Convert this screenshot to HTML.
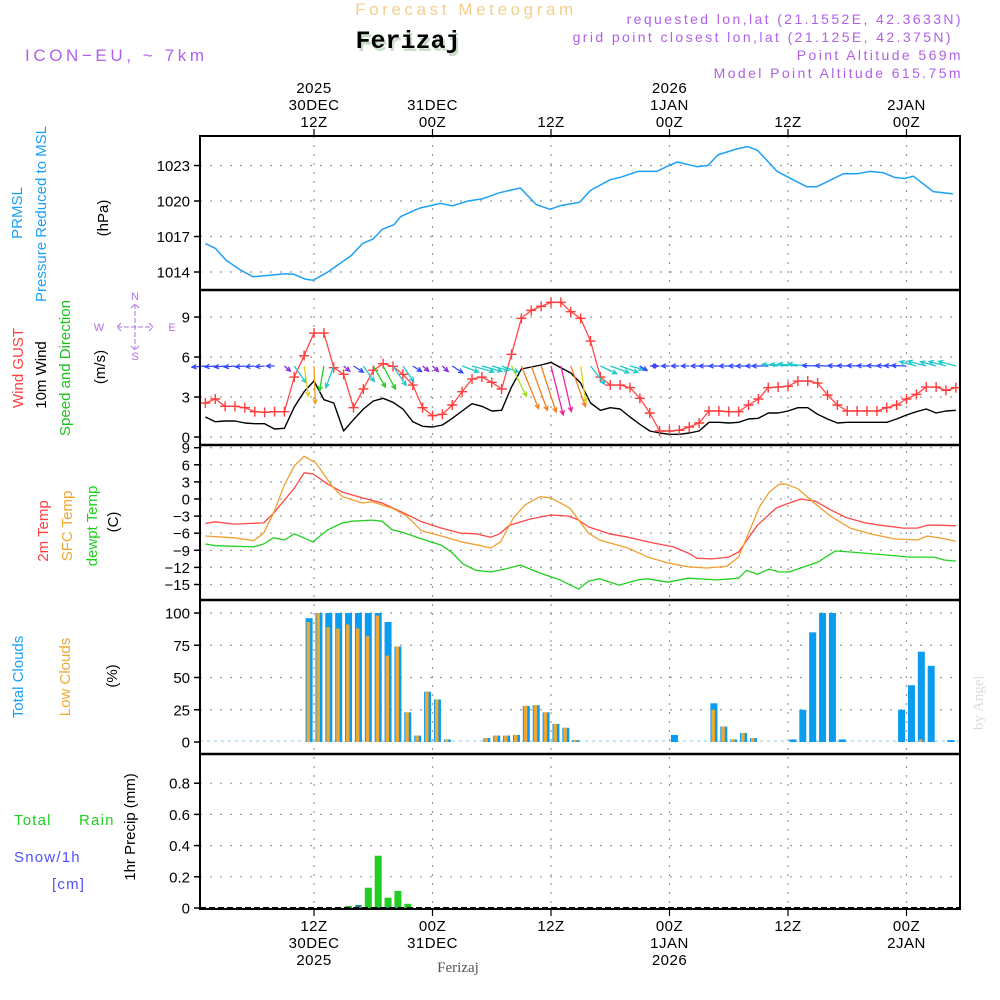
<!DOCTYPE html>
<html><head><meta charset="utf-8"><title>Forecast Meteogram Ferizaj</title>
<style>
html,body{margin:0;padding:0;background:#fff;}
svg{display:block;font-family:"Liberation Sans",sans-serif;}
.tk{font-size:15px;fill:#000;}
</style></head>
<body>
<svg id="chart" width="1000" height="1000" viewBox="0 0 1000 1000" xmlns="http://www.w3.org/2000/svg">
<text x="466" y="15" text-anchor="middle" font-size="17" fill="#f3cf8c" letter-spacing="3.6">Forecast Meteogram</text>
<text x="410" y="51" text-anchor="middle" font-size="25" font-weight="bold" font-family="'Liberation Mono',monospace" fill="#c8dcc8">Ferizaj</text>
<text x="408" y="48" text-anchor="middle" font-size="25" font-weight="bold" font-family="'Liberation Mono',monospace" fill="#000">Ferizaj</text>
<text x="25" y="61" font-size="17" fill="#b060e8" letter-spacing="3.6">ICON−EU, ~ 7km</text>
<g font-size="14" fill="#b060e8" text-anchor="end" letter-spacing="2.4">
<text x="963" y="24">requested lon,lat (21.1552E, 42.3633N)</text>
<text x="953" y="42">grid point closest lon,lat (21.125E, 42.375N)</text>
<text x="963" y="60">Point Altitude 569m</text>
<text x="963" y="78">Model Point Altitude 615.75m</text>
</g>
<g id="g-grid"></g>
<g id="g-data"></g>
<g id="g-axes"></g>
<g id="g-labels"></g>
<text x="458" y="972" text-anchor="middle" font-size="15" font-family="'Liberation Serif',serif" fill="#555">Ferizaj</text>
<text transform="translate(983,730) rotate(-90)" font-size="15" font-family="'Liberation Serif',serif" fill="#dcdcdc">by Angel</text>
</svg>
<script>
// ---------- data ----------
const pressHours=[1,2,3.1,4.5,5.8,7.3,9.1,10,11.1,11.9,13.4,15.8,16.9,18,18.9,20.1,20.8,22.7,24.8,26,27.6,29.1,30.8,32.9,34.5,35.9,36.9,38.9,40,42,43,44.8,46.7,47.7,48.8,50.8,51.9,52.9,54.8,55.9,56.9,58.9,61.9,62.9,65.6,67,68.3,69.6,70.8,71.8,72.7,74.7,76.7];
const pressVals=[1016.4,1016.0,1015.0,1014.2,1013.6,1013.7,1013.85,1013.8,1013.4,1013.3,1014.0,1015.4,1016.4,1016.8,1017.6,1018.0,1018.7,1019.4,1019.8,1019.6,1020.0,1020.2,1020.7,1021.1,1019.7,1019.3,1019.6,1019.9,1020.9,1021.8,1022.0,1022.5,1022.5,1022.9,1023.3,1022.9,1023.0,1023.9,1024.4,1024.6,1024.3,1022.5,1021.2,1021.2,1022.3,1022.3,1022.5,1022.4,1022.0,1021.9,1022.1,1020.8,1020.6];
// hourly t=1..77
const gustVals=[2.55,2.85,2.3,2.3,2.2,1.9,1.85,1.9,1.9,4.5,6.1,7.8,7.8,5.2,4.7,2.2,3.6,5.0,5.5,5.3,4.7,3.9,2.2,1.6,1.7,2.4,3.4,4.35,4.5,4.1,3.6,6.2,8.9,9.5,9.8,10.1,10.1,9.4,8.9,7.2,4.5,3.9,3.9,3.7,2.9,1.8,0.45,0.45,0.5,0.75,1.05,1.95,1.95,1.9,1.9,2.4,2.85,3.7,3.75,3.8,4.2,4.2,4.05,3.15,2.4,1.95,1.95,1.95,1.95,2.2,2.4,2.85,3.2,3.75,3.75,3.5,3.7];
const windVals=[1.5,1.15,1.2,1.2,1.05,1.0,1.0,0.6,0.65,2.25,3.4,4.2,2.8,2.55,0.45,1.3,2.1,2.7,2.9,2.6,2.1,1.15,0.8,0.75,0.9,1.4,1.95,2.5,2.3,1.95,2.0,3.75,5.1,5.25,5.4,5.6,5.2,4.8,4.05,2.55,2.0,2.2,2.1,1.5,0.95,0.45,0.3,0.2,0.2,0.3,0.45,1.1,1.1,1.05,1.1,1.35,1.4,1.8,1.8,1.95,2.2,2.2,1.7,1.35,1.05,1.1,1.1,1.1,1.1,1.1,1.35,1.65,1.9,2.1,1.8,1.95,2.0];
const windDir=[85,85,85,85,85,85,85,90,310,325,352,358,10,20,310,302,325,330,332,326,325,302,310,312,314,303,290,285,285,285,290,334,338,340,342,346,347,340,352,322,295,290,290,285,302,270,90,90,90,90,90,90,90,90,90,90,90,90,96,96,96,96,92,92,92,92,92,92,92,92,92,92,105,105,105,105,105];
const t2mHours=[1,2,3.9,6.9,7.9,10,11,11.9,13.4,14.9,16.9,18.9,20.9,22.9,24.9,26.9,28.4,29.9,30.8,31.8,33.9,36,37.8,38.8,39.8,41.9,43.8,46.3,48.4,49.9,50.8,52.3,54,55,56.9,58.8,59.8,61.3,62.8,64.3,65.8,67.8,69.8,71.7,73.1,74.1,75.3,77];
const t2mVals=[-4.3,-4.0,-4.4,-4.2,-2.5,1.9,4.6,4.4,2.6,1.2,0.2,-0.7,-2.3,-4.0,-5.1,-6.0,-6.1,-6.7,-6.1,-4.6,-3.5,-2.8,-3.0,-3.7,-4.9,-6.1,-6.7,-7.7,-8.4,-9.5,-10.4,-10.5,-10.2,-9.3,-4.6,-1.6,-0.9,0,-0.4,-1.9,-3.2,-4.2,-4.7,-5.1,-5.1,-4.6,-4.6,-4.7];
const sfcHours=[1,3.9,5.9,6.9,7.9,9,10,11,12.2,13.9,14.9,16.9,17.9,19.9,21.4,22.9,24.9,26.9,28.9,29.9,30.9,32.2,33.4,34.9,36,37.9,39.8,40.9,43.8,45.8,47.8,49.9,51.8,53.8,55,57.1,58.1,59.1,59.8,61,62.8,64.3,66.3,68.3,70.8,73.1,74.1,75.3,77];
const sfcVals=[-6.5,-6.8,-7.3,-6.0,-2.5,2.5,5.8,7.5,6.3,2.1,0.4,-0.7,-0.5,-1.6,-3.0,-5.6,-6.5,-7.5,-8.2,-8.6,-7.5,-3.3,-1.0,0.4,0.2,-1.6,-6.0,-7.2,-8.6,-10.2,-11.2,-11.9,-12.1,-11.8,-10.2,-1.4,1.2,2.6,2.6,1.8,-0.9,-3.0,-5.1,-6.1,-7.0,-7.2,-6.5,-6.8,-7.4];
const dewHours=[1,2,5.9,6.9,7.9,9,10,11.9,13.4,14.9,15.9,17.9,18.9,19.9,20.9,22.9,24.9,25.9,27.1,28.4,29.9,31.3,32.9,34.9,36.9,38.8,39.8,40.9,42.9,44.8,45.8,47.8,49.9,52.8,54.3,55,55.8,56.9,58.1,59.1,60.1,61.8,63,64.8,66.3,69.8,72.3,74.8,75.8,77];
const dewVals=[-7.9,-8.2,-8.4,-7.9,-6.8,-7.2,-6.1,-7.5,-5.4,-4.2,-3.9,-3.7,-3.9,-5.4,-5.8,-7.0,-8.1,-9.3,-11.4,-12.5,-12.8,-12.3,-11.6,-13.0,-14.2,-15.8,-14.4,-14.0,-15.1,-14.2,-14.0,-14.6,-13.9,-14.2,-14.0,-13.9,-12.5,-13.2,-12.3,-12.8,-12.8,-11.8,-11.1,-9.1,-9.3,-9.8,-10.2,-10.2,-10.7,-10.9];
const totalClouds=[0,0,0,0,0,0,0,0,0,0,0, 96,100,100,100,100,100,100,100,93,74,23,5,39,33,2, 0,0,0, 3,5,5,5.5,28,28.5,23,14,11,1.5, 0,0,0,0,0,0,0,0,0, 5.5, 0,0,0, 30,12,2,7,3, 0,0,0, 2,25,85,100,100,2, 0,0,0,0,0, 25,44,70,59,0,1.5];
const lowClouds=[0,0,0,0,0,0,0,0,0,0,0, 93,100,89,88,91,88,82,98,67,74,23,5,39,33,2, 0,0,0, 3,5,5,5.5,28,28.5,23,14,11,1.5, 0,0,0,0,0,0,0,0,0, 0, 0,0,0, 25,12,2,7,3, 0,0,0, 0,0,0,0,0,0, 0,0,0,0,0, 0,0,2,0,0,0];
const precipHours=[16,17,18,19,20,21,22];
const precipVals=[0.013,0.02,0.13,0.335,0.066,0.11,0.027];
const snowHours=[16,17,19,20];
const snowVals=[0.004,0.015,0.004,0.004];
const pressTicks=[1014,1017,1020,1023];
const windTicks=[0,3,6,9];
const tempTicks=[9,6,3,0,-3,-6,-9,-12,-15];
const cloudTicks=[0,25,50,75,100];
const precipTicks=[0,0.2,0.4,0.6,0.8];
const precipTickLabels=["0","0.2","0.4","0.6","0.8"];
const timeTicks=[12,24,36,48,60,72];
const topLabels=[["2025","30DEC","12Z"],["","31DEC","00Z"],["","","12Z"],["2026","1JAN","00Z"],["","","12Z"],["","2JAN","00Z"]];
const bottomLabels=[["12Z","30DEC","2025"],["00Z","31DEC",""],["12Z","",""],["00Z","1JAN","2026"],["12Z","",""],["00Z","2JAN",""]];

// ---------- scales ----------
const X0=200,X1=960,YT=136,YB=909;
const xOf=t=>195.5+t*9.875;
const yP=v=>272-(v-1014)*11.83;
const yW=v=>437-v*13.33;
const yT=v=>499-v*5.7;
const yC=v=>742-v*1.29;
const yR=v=>908-v*156;
const hourly=i=>i+1;
const NS="http://www.w3.org/2000/svg";
function mk(tag,attrs,parent){const e=document.createElementNS(NS,tag);for(const k in attrs)e.setAttribute(k,attrs[k]);parent.appendChild(e);return e;}
const gGrid=document.getElementById('g-grid'),gData=document.getElementById('g-data'),gAxes=document.getElementById('g-axes'),gLab=document.getElementById('g-labels');

// grid
timeTicks.forEach(t=>{
  const l=mk('line',{x1:xOf(t),x2:xOf(t),y1:YT,y2:YB,stroke:'#9a9a9a','stroke-width':1.2,'stroke-dasharray':'2 7'},gGrid);
  
  
});
function hgrid(ticks,f,name){ticks.forEach(v=>{
  const l=mk('line',{x1:X0,x2:X1,y1:f(v),y2:f(v),stroke:'#9a9a9a','stroke-width':1.2,'stroke-dasharray':'2 8'},gGrid);
  
  
});}
hgrid(pressTicks,yP,'pressure-gridline');
hgrid(windTicks,yW,'wind-gridline');
hgrid(tempTicks,yT,'temp-gridline');
hgrid(cloudTicks.filter(v=>v>0),yC,'cloud-gridline');
hgrid(precipTicks.filter(v=>v>0),yR,'precip-gridline');

// lines
function line(hours,vals,f,color,w,name){
  const d=hours.map((t,i)=>(i?'L':'M')+xOf(t).toFixed(1)+','+f(vals[i]).toFixed(1)).join('');
  const p=mk('path',{d:d,fill:'none',stroke:color,'stroke-width':w,'stroke-linejoin':'round'},gData);
  
  
}
line(pressHours,pressVals,yP,'#1ea0f5',1.5,'pressure-line');
const hrs=gustVals.map((v,i)=>hourly(i));
line(hrs,windVals,yW,'#000',1.4,'wind-speed-line');
line(hrs,gustVals,yW,'#ff4848',1.3,'wind-gust-line');
hrs.forEach((t,i)=>{
  const x=xOf(t),y=yW(gustVals[i]);
  const m=mk('path',{d:`M${x-5},${y}H${x+5}M${x},${y-5}V${y+5}`,stroke:'#ff3c3c','stroke-width':1.4},gData);
  
  
});
// wind arrows
function dirColor(d){
  if(d>=355||d<5)return '#f0a020';
  if(d<20)return '#20d020';
  if(d<80)return '#20c8d0';
  if(d<93)return '#3448ff';
  if(d<130)return '#20c8d0';
  if(d<282)return '#8a2be2';
  if(d<300)return '#20c8c8';
  if(d<306)return '#3448ff';
  if(d<318)return '#8a2be2';
  if(d<328)return '#20c8d0';
  if(d<334)return '#20d020';
  if(d<336)return '#a0e020';
  if(d<345)return '#f08020';
  if(d<350)return '#f020a0';
  return '#e0d020';
}
hrs.forEach((t,i)=>{
  const d=windDir[i]*Math.PI/180,L=Math.max(8,9*windVals[i]);
  const x0=xOf(t),y0=366,dx=-Math.sin(d),dy=Math.cos(d);
  const x1=x0+dx*L,y1=y0+dy*L;
  const a=Math.atan2(dy,dx),h=5;
  const hx1=x1-h*Math.cos(a-0.45),hy1=y1-h*Math.sin(a-0.45),hx2=x1-h*Math.cos(a+0.45),hy2=y1-h*Math.sin(a+0.45);
  const ar=mk('path',{d:`M${x0},${y0}L${x1},${y1}M${hx1},${hy1}L${x1},${y1}L${hx2},${hy2}`,fill:'none',stroke:dirColor(windDir[i]),'stroke-width':1.3},gData);
  
  
});
line(t2mHours,t2mVals,yT,'#ff4848',1.3,'temp-2m-line');
line(sfcHours,sfcVals,yT,'#f0a030',1.3,'temp-sfc-line');
line(dewHours,dewVals,yT,'#20d020',1.3,'dewpoint-line');

// cloud bars
const cb=mk('line',{x1:X0,x2:X1,y1:741,y2:741,stroke:'#8cc8f0','stroke-width':1,'stroke-dasharray':'3 4'},gData);


totalClouds.forEach((v,i)=>{
  const cx=xOf(hourly(i)-0.5);
  if(v>0){
    const r=mk('rect',{x:cx-3.5,y:yC(v),width:7,height:yC(0)-yC(v),fill:'#0a9cf0'},gData);
    
    
  }
  const lv=lowClouds[i];
  if(lv>0){
    const r2=mk('rect',{x:cx-2.5,y:yC(lv),width:3.5,height:yC(0)-yC(lv),fill:'#f0a830'},gData);
    
    
  }
});
// precip
precipHours.forEach((t,i)=>{
  const cx=xOf(t-0.5);
  const r=mk('rect',{x:cx-3.5,y:yR(precipVals[i]),width:7,height:yR(0)-yR(precipVals[i]),fill:'#22cc22'},gData);
  
  
});
snowHours.forEach((t,i)=>{
  const cx=xOf(t-0.5);
  const r=mk('rect',{x:cx-2,y:yR(snowVals[i]),width:4,height:yR(0)-yR(snowVals[i]),fill:'#4040ff'},gData);
  
  
});
const pb=mk('line',{x1:X0,x2:X1,y1:908,y2:908,stroke:'#000','stroke-width':2,'stroke-dasharray':'6 3'},gData);



// frame & separators
const fr=mk('rect',{x:X0,y:YT,width:X1-X0,height:YB-YT,fill:'none',stroke:'#000','stroke-width':2},gAxes);


[290,445,600,754].forEach(y=>{
  const s=mk('line',{x1:X0,x2:X1,y1:y,y2:y,stroke:'#000','stroke-width':2.5},gAxes);
  
  
});
// y ticks
function yticks(ticks,f,labels,name){ticks.forEach((v,i)=>{
  const y=f(v);
  const tk=mk('line',{x1:194,x2:X0,y1:y,y2:y,stroke:'#000','stroke-width':1.5},gAxes);
  
  
  const tx=mk('text',{x:190,y:y+5.5,'text-anchor':'end',class:'tk'},gAxes);
  tx.textContent=labels?labels[i]:String(v).replace('-','−');
  
  
});}
yticks(pressTicks,yP,null,'pressure');
yticks(windTicks,yW,null,'wind');
yticks(tempTicks,yT,null,'temp');
yticks(cloudTicks,yC,null,'cloud');
yticks(precipTicks,yR,precipTickLabels,'precip');
// time ticks & labels
timeTicks.forEach((t,i)=>{
  const x=xOf(t);
  const a=mk('line',{x1:x,x2:x,y1:129,y2:YT,stroke:'#000','stroke-width':1.2},gAxes);
  
  
  const b=mk('line',{x1:x,x2:x,y1:YB,y2:916,stroke:'#000','stroke-width':1.2},gAxes);
  
  
  topLabels[i].forEach((s,j)=>{ if(!s)return;
    const tx=mk('text',{x:x,y:93+j*17,'text-anchor':'middle',class:'tk','font-size':'17','letter-spacing':'0.5'},gAxes);
    tx.textContent=s;
    
    
  });
  bottomLabels[i].forEach((s,j)=>{ if(!s)return;
    const tx=mk('text',{x:x,y:931+j*17,'text-anchor':'middle',class:'tk','font-size':'17','letter-spacing':'0.5'},gAxes);
    tx.textContent=s;
    
    
  });
});
// rotated panel titles
function vlab(txt,x,cy,color,name){
  const t=mk('text',{transform:`translate(${x},${cy}) rotate(-90)`,'text-anchor':'middle','font-size':'15',fill:color},gLab);
  t.textContent=txt;
  
  
}
vlab('PRMSL',22,213,'#1ea0f5','pressure-title-prmsl');
vlab('Pressure Reduced to MSL',46,214,'#1ea0f5','pressure-title');
vlab('(hPa)',108,218,'#000','pressure-unit');
vlab('Wind GUST',23,368,'#ff4040','gust-title');
vlab('10m Wind',46,375,'#000','wind-title');
vlab('Speed and Direction',70,368,'#20c020','wind-direction-title');
vlab('(m/s)',105,367,'#000','wind-unit');
vlab('2m Temp',48,531,'#ff4040','temp-2m-title');
vlab('SFC Temp',72,526,'#f0a830','temp-sfc-title');
vlab('dewpt Temp',97,526,'#20d020','dewpoint-title');
vlab('(C)',118,522,'#000','temp-unit');
vlab('Total Clouds',23,677,'#1ea0f5','total-clouds-title');
vlab('Low Clouds',70,677,'#f0a830','low-clouds-title');
vlab('(%)',117,676,'#000','cloud-unit');
vlab('1hr Precip (mm)',135,827,'#000','precip-title');
function hlab(txt,x,y,color,name){
  const t=mk('text',{x:x,y:y,'font-size':'15',fill:color,'letter-spacing':'1.2'},gLab);
  t.textContent=txt;
  
  
}
hlab('Total',14,825,'#20d020','precip-total-label');
hlab('Rain',79,825,'#20d020','precip-rain-label');
hlab('Snow/1h',14,862,'#5050ff','snow-label');
hlab('[cm]',52,889,'#5050ff','snow-unit-label');
// compass
const cg=mk('g',{'font-size':'11',fill:'#b070e0','text-anchor':'middle'},gLab);


mk('path',{d:'M117,327H153M135,304V350M121,323L117,327L121,331M149,323L153,327L149,331M131,308L135,304L139,308M131,346L135,350L139,346',fill:'none',stroke:'#b070e0','stroke-width':1,'stroke-dasharray':'5 2'},cg);
[['N',135,300],['W',99,331],['E',172,331],['S',135,360]].forEach(a=>{
  const t=mk('text',{x:a[1],y:a[2]},cg);t.textContent=a[0];
});
</script>
</body></html>
